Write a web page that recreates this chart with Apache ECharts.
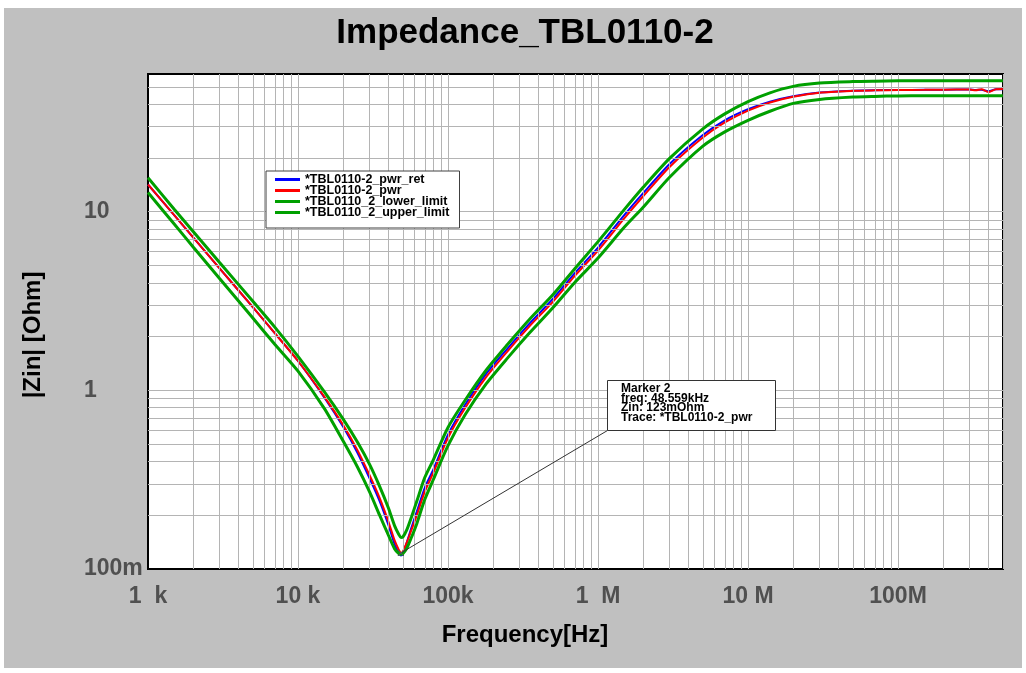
<!DOCTYPE html>
<html><head><meta charset="utf-8">
<script src="https://cdn.jsdelivr.net/npm/echarts@6/dist/echarts.min.js"></script>
<style>
html,body{margin:0;padding:0;background:#fff;}
#bg{position:absolute;left:4px;top:8px;width:1018px;height:660px;background:#c0c0c0;}
#chart{position:absolute;left:0;top:0;width:1026px;height:673px;}
</style></head><body>
<div id="bg"></div><div id="chart"></div>
<script>
// ---- data ----
const freqHz = [1000,1500,2000,3000,5000,7000,10000,15000,20000,25000,30000,35000,40000,44000,47000,48559,50000,53000,57000,62000,70000,80000,100000,130000,180000,250000,350000,500000,700000,1e6,1.5e6,2e6,3e6,5e6,7e6,1e7,1.4e7,2e7,3e7,5e7,7e7,1e8,1.5e8,2e8,3e8,3.3e8,3.6e8,4e8,4.5e8,5e8];
const zPwrRet = [14.2,9.53,7.18,4.82,2.92,2.09,1.46,0.91,0.625,0.445,0.322,0.24,0.177,0.138,0.123,0.119,0.122,0.140,0.170,0.210,0.285,0.362,0.565,0.83,1.24,1.72,2.37,3.25,4.53,6.3,9.6,12.7,18.5,26.9,32.5,37.5,41.3,44.3,46.5,47.6,47.9,48.0,48.1,48.2,48.3,48.0,48.2,47.2,48.4,48.5];
const zPwr = [14.2,9.53,7.18,4.82,2.92,2.09,1.46,0.92,0.64,0.46,0.335,0.25,0.185,0.145,0.128,0.123,0.125,0.140,0.165,0.200,0.271,0.347,0.542,0.796,1.19,1.66,2.29,3.13,4.37,6.06,9.2,12.2,17.8,26.0,31.6,36.8,40.9,44.0,46.4,47.5,47.8,48.0,48.1,48.2,48.3,47.8,48.4,46.8,48.5,48.6];
const zLowerLimit = [12.8,8.5,6.35,4.23,2.54,1.81,1.28,0.79,0.52,0.37,0.27,0.20,0.155,0.130,0.122,0.121,0.122,0.130,0.150,0.180,0.245,0.318,0.49,0.73,1.09,1.52,2.10,2.90,4.02,5.5,8.2,10.6,15.6,23.3,28.0,32.5,36.5,40.4,42.5,43.8,44.2,44.5,44.6,44.6,44.6,44.6,44.6,44.6,44.6,44.6];
const zUpperLimit = [15.5,10.3,7.75,5.2,3.15,2.26,1.55,0.98,0.69,0.51,0.385,0.29,0.22,0.175,0.156,0.150,0.151,0.165,0.195,0.24,0.325,0.41,0.62,0.88,1.30,1.81,2.5,3.43,4.8,6.8,10.3,13.7,19.9,29.1,35.3,41.3,46.3,50.3,52.5,53.5,53.8,54.0,54.1,54.1,54.1,54.1,54.1,54.1,54.1,54.1];
const seriesNames = ['*TBL0110-2_pwr_ret','*TBL0110-2_pwr','*TBL0110_2_lower_limit','*TBL0110_2_upper_limit'];
const xTickLabels = ['1  k','10 k','100k','1  M','10 M','100M']; // 1e3 .. 1e8
const yTickLabels = ['100m','1','10'];                           // 1e-1 .. 1e1
const markerFreq = 48559, markerZin = 0.123;
const markerText = ['Marker 2','freq: 48.559kHz','Zin: 123mOhm','Trace: *TBL0110-2_pwr'];
const titleText = 'Impedance_TBL0110-2';
const xName = 'Frequency[Hz]', yName = '|Zin| [Ohm]';

// ---- layout ----
const X_MIN = 1000, X_MAX = 5.01e8, Y_MIN = 0.1, Y_MAX = 59;
const FONT = '"Liberation Sans", Arial, sans-serif';
const xDecades = [1e3,1e4,1e5,1e6,1e7,1e8], yDecades = [0.1,1,10];
const mults = [1,2,3,4,5,6,7,8,9];
const xGrid = [], yGrid = [];
xDecades.forEach(d => mults.forEach(m => { const v = d*m; if (v > X_MIN*1.0001 && v < X_MAX*0.999) xGrid.push(v); }));
yDecades.forEach(d => mults.forEach(m => { const v = +(d*m).toPrecision(6); if (v > Y_MIN*1.0001 && v < Y_MAX*0.999) yGrid.push(v); }));

const chart = echarts.init(document.getElementById('chart'), null, {renderer:'canvas'});
const mk = arr => freqHz.map((f,i) => [f, arr[i]]);
const colors = ['#0000ff','#ff0000','#00a000','#00a000'];
const widths = [2,2,3,3];
const dataArr = [zPwrRet, zPwr, zLowerLimit, zUpperLimit];

const lineSeries = seriesNames.map((n,i) => ({
  name: n, type: 'line', data: mk(dataArr[i]), showSymbol: false, symbol: 'none', smooth: 0.25,
  color: colors[i], lineStyle: {color: colors[i], width: widths[i]}, z: 3 + i, animation: false,
  emphasis: {disabled: true}
}));

function expOf(v){ const e = Math.log10(v); return Math.abs(e - Math.round(e)) < 1e-6 ? Math.round(e) : null; }

chart.setOption({
  backgroundColor: 'transparent',
  animation: false,
  title: {text: titleText, left: 520, top: 11, textAlign: 'center',
    textStyle: {fontFamily: FONT, fontWeight: 'bold', fontSize: 35, color: '#000'}},
  grid: {left: 148, top: 74, width: 855, height: 495, show: true, backgroundColor: '#fff',
    borderColor: '#000', borderWidth: 2, containLabel: false},
  legend: {data: seriesNames, orient: 'vertical', left: 266, top: 171, padding: [2,10,9,9], z: 30,
    backgroundColor: '#fff', borderColor: '#404040', borderWidth: 1, borderRadius: 0,
    icon: 'rect', itemWidth: 25, itemHeight: 3, itemGap: -2, selectedMode: false,
    textStyle: {fontFamily: FONT, fontWeight: 'bold', fontSize: 12.5, color: '#000'}},
  xAxis: {type: 'log', logBase: 10, min: X_MIN, max: X_MAX,
    axisLine: {show: false}, axisTick: {show: false}, splitLine: {show: false}, minorSplitLine: {show: false},
    axisLabel: {margin: 16, fontFamily: FONT, fontWeight: 'bold', fontSize: 23, color: '#505050',
      showMaxLabel: false,
      formatter: v => { const e = expOf(v); return e === null ? '' : (xTickLabels[e-3] || ''); }}},
  yAxis: {type: 'log', logBase: 10, min: Y_MIN, max: Y_MAX,
    axisLine: {show: false}, axisTick: {show: false}, splitLine: {show: false},
    axisLabel: {margin: 64, align: 'left', fontFamily: FONT, fontWeight: 'bold', fontSize: 23, color: '#505050',
      showMaxLabel: false,
      formatter: v => { const e = expOf(v); return e === null ? '' : (yTickLabels[e+1] || ''); }}},
  series: [{
    name: '_grid', type: 'line', data: [[1000, 1]], showSymbol: false, symbol: 'none',
    lineStyle: {opacity: 0}, z: 1, silent: true,
    markLine: {silent: true, symbol: ['none','none'], label: {show: false}, animation: false,
      lineStyle: {color: '#b4b4b4', width: 1, type: 'solid'}, emphasis: {disabled: true},
      data: xGrid.map(v => ({xAxis: v})).concat(yGrid.map(v => ({yAxis: v})))}
  }].concat(lineSeries)
});

const p = chart.convertToPixel({gridIndex: 0}, [markerFreq, markerZin]);
const box = {x: 607.5, y: 380.5, w: 168, h: 50};
chart.setOption({graphic: [
  {type: 'text', style: {text: xName, x: 525, y: 635, align: 'center', verticalAlign: 'middle',
    font: 'bold 24px ' + FONT, fill: '#000'}},
  {type: 'text', x: 33, y: 335, rotation: Math.PI/2, style: {text: yName, x: 0, y: 0, align: 'center', verticalAlign: 'middle',
    font: 'bold 24px ' + FONT, fill: '#000'}},
  {type: 'line', shape: {x1: box.x, y1: box.y + box.h, x2: p[0], y2: p[1]}, style: {stroke: '#333', lineWidth: 1}, z: 20},
  {type: 'polyline', shape: {points: [[p[0]-3,p[1]-3],[p[0]+3,p[1]+3],[p[0],p[1]],[p[0]-3,p[1]+3],[p[0]+3,p[1]-3]]}, style: {stroke: '#555', lineWidth: 1, fill: null}, z: 20},
  {type: 'rect', shape: {x: box.x, y: box.y, width: box.w, height: box.h}, style: {fill: '#fff', stroke: '#333', lineWidth: 1}, z: 20},
  {type: 'text', style: {text: markerText.join('\n'), x: 621, y: 383.5, align: 'left', verticalAlign: 'top',
    font: 'bold 12px ' + FONT, fill: '#000', lineHeight: 9.8}, z: 21}
]});
</script>
</body></html>
